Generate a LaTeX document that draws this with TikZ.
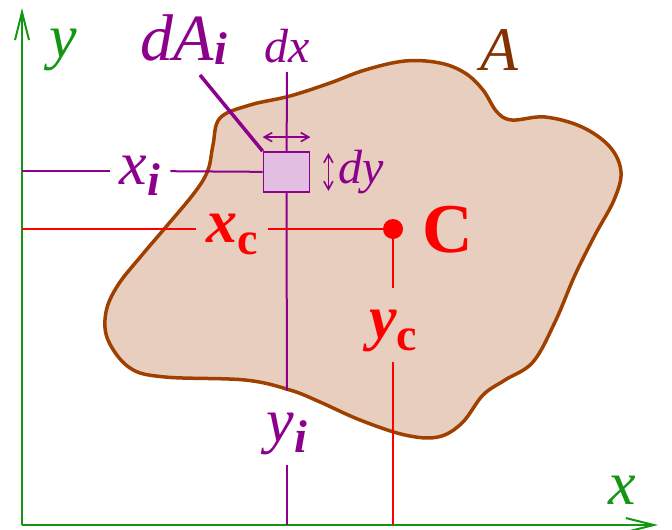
\documentclass[tikz,border=0pt]{standalone}
\usepackage{fontspec}
\setmainfont{Liberation Serif}
\usetikzlibrary{arrows.meta}
\definecolor{axisgreen}{RGB}{20,150,20}
\definecolor{purp}{RGB}{140,0,140}
\definecolor{blobline}{RGB}{160,64,0}
\definecolor{blobfill}{RGB}{232,206,190}
\definecolor{boxfill}{RGB}{226,190,226}
\definecolor{Abrown}{RGB}{130,50,0}
\newcommand{\lowidx}[2][12pt]{\raisebox{-#1}{\fontsize{46}{46}\selectfont\bfseries #2}}
\begin{document}
\begin{tikzpicture}[x=1pt,y=-1pt,every node/.style={font=\fontsize{62}{62}\selectfont\itshape},
  axis/.style={draw=axisgreen,line width=2pt,-{Straight Barb[length=28pt,width=14pt]}},
  blob/.style={draw=blobline,fill=blobfill,line width=3.5pt},
  pline/.style={draw=purp,line width=2pt},
  rline/.style={draw=red,line width=1.8pt},
  gaplabel/.style={inner sep=10pt,text height=40pt,text depth=14pt},
  dimarrow/.style={draw=purp,line width=1.6pt,{Straight Barb[length=8pt,width=9pt]}-{Straight Barb[length=8pt,width=9pt]}},
  small/.style={font=\fontsize{48}{48}\selectfont\itshape}]
\useasboundingbox (0,0) rectangle (672,530);
% the region A
\draw[blob] plot[smooth cycle,tension=0.6] coordinates {(220,118) (250,105) (290,96) (330,83) (365,70) (405,61) (440,63) (465,73) (483,90) (497,112) (512,120) (545,117) (582,127) (610,147) (621,172) (614,200) (595,235) (575,275) (555,322) (533,362) (505,380) (483,395) (462,423) (438,437) (405,435) (360,420) (320,402) (290,390) (245,380) (165,377) (130,368) (108,340) (106,312) (118,285) (142,255) (165,228) (195,192) (208,170) (213,145)};
\node[text=Abrown] (Alab) at (499,50) {A};
% axes
\coordinate (O) at (22,525);
\coordinate (ytip) at (22,8);
\coordinate (xtip) at (658,525);
\draw[axis] (O) -- (ytip);
\draw[axis] (O) -- (xtip);
\node[text=axisgreen] (ylab) at (63,50) {y};
\node[text=axisgreen] (xlab) at (622,490) {x};
% element dA
\node[draw=purp,fill=boxfill,line width=1.8pt,minimum width=46pt,minimum height=40pt,inner sep=0] (dA) at (286.5,172) {};
\node[text=purp,gaplabel] (xilab) at (140,171) {x\lowidx[11pt]{i}};
\node[text=purp,gaplabel] (yilab) at (287,428) {y\lowidx[11pt]{i}};
\coordinate (xi0) at (22,171);
\coordinate (yi0) at (287,525);
\coordinate (dxtop) at (287,72);
\draw[pline] (xi0) -- (xilab);
\draw[pline] (xilab) -- (dA);
\draw[pline] (dxtop) -- (dA);
\draw[pline] (dA) -- (yilab);
\draw[pline] (yilab) -- (yi0);
\node[text=purp,font=\fontsize{66}{66}\selectfont\itshape] (dAlab) at (184,40) {dA\lowidx[4pt]{i}};
\coordinate (lead) at (200,75);
\draw[draw=purp,line width=3.5pt] (lead) -- (dA.north west);
\draw[dimarrow] ([yshift=14pt]dA.north west) -- ([yshift=14pt]dA.north east);
\draw[dimarrow] ([xshift=18pt,yshift=-2pt]dA.north east) -- ([xshift=18pt,yshift=2pt]dA.south east);
\node[text=purp,small] (dxlab) at (287,46) {dx};
\node[text=purp,small,anchor=west] (dylab) at (335,172) {dy};
% centroid C
\node[circle,fill=red,inner sep=0,minimum size=20pt] (C) at (393,229) {};
\node[text=red,font=\fontsize{70}{70}\selectfont\bfseries] (Clab) at (448,230) {C};
\node[text=red,gaplabel,font=\fontsize{62}{62}\selectfont\bfseries\itshape] (xclab) at (232,229) {x\lowidx{\upshape c}};
\node[text=red,gaplabel,font=\fontsize{62}{62}\selectfont\bfseries\itshape] (yclab) at (393,325) {y\lowidx{\upshape c}};
\coordinate (xc0) at (22,229);
\coordinate (yc0) at (393,525);
\draw[rline] (xc0) -- (xclab);
\draw[rline] (xclab) -- (C);
\draw[rline] (C) -- (yclab);
\draw[rline] (yclab) -- (yc0);
\end{tikzpicture}
\end{document}
